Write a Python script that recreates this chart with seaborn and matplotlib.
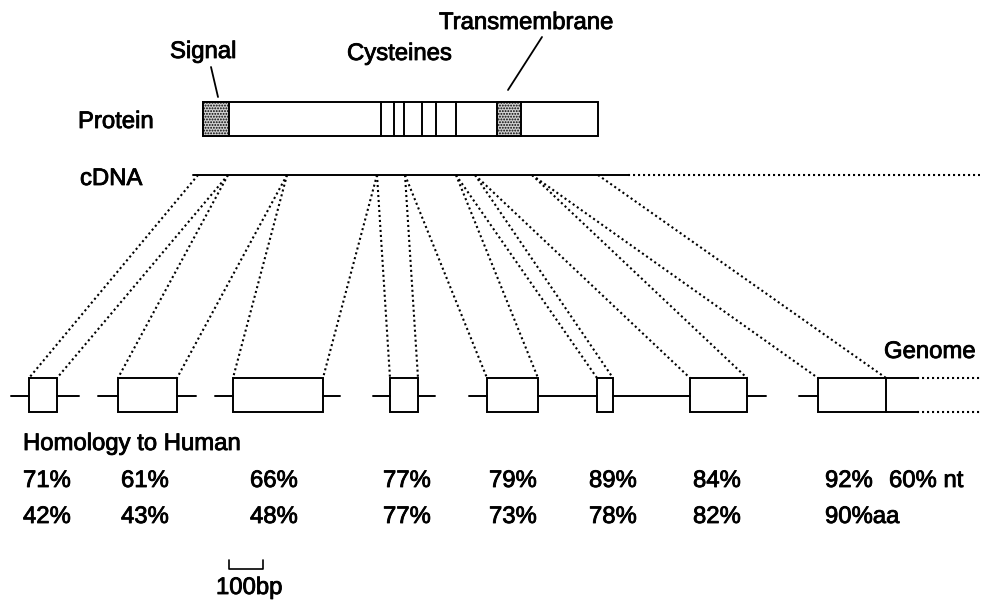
import matplotlib
matplotlib.use("Agg")
import matplotlib.pyplot as plt
import matplotlib.patheffects as pe
from matplotlib.patches import Rectangle
import seaborn as sns

# ----------------------------
# data (diagram units = pixels of the 985x605 canvas)
# ----------------------------
protein_span = (203, 598)
signal_span = (203, 229)
transmembrane_span = (497, 521)
cysteine_x = [381, 394, 404, 422, 436, 456]

cdna_solid = (193, 628)
cdna_dotted_end = 980
# exon boundaries on the cDNA, 5' to 3'
cdna_junctions = [198, 228, 287, 377, 405, 456, 475, 532, 598]

exon_starts = [29, 118, 233, 390, 487, 597, 690, 818]
exon_ends = [57, 177, 323, 418, 538, 613, 747, 886]
intron_segments = [(11, 29), (57, 79), (98, 118), (177, 196), (215, 233),
                   (323, 340), (373, 390), (418, 435), (469, 487),
                   (538, 597), (613, 690), (747, 766), (799, 818)]
utr_solid_end = 917
utr_dotted_end = 982

nt_labels = ["71%", "61%", "66%", "77%", "79%", "89%", "84%", "92%", "60% nt"]
aa_labels = ["42%", "43%", "48%", "77%", "73%", "78%", "82%", "90%aa"]
nt_label_x = [23, 121, 250, 383, 489, 589, 693, 825, 889]
aa_label_x = [23, 121, 250, 383, 489, 589, 693, 825]

scale_bar = (229, 263)   # 100 bp

# ----------------------------
# layout
# ----------------------------
prot_top, prot_bot = 102, 136
cdna_y = 175
exon_top, exon_bot = 378, 412
intron_y = 396

sns.set_style("white")
plt.rcParams["font.family"] = ["Liberation Sans", "DejaVu Sans"]
plt.rcParams["hatch.linewidth"] = 0.9

fig = plt.figure(figsize=(9.85, 6.05), dpi=100)
ax = fig.add_axes([0, 0, 1, 1])
ax.set_xlim(0, 985)
ax.set_ylim(605, 0)
ax.axis("off")

LW = 1.4
dotted = (0, (1, 1.4))
fs = 17.2
ink = [pe.withStroke(linewidth=0.6, foreground="black")]

def text(x, y, s):
   ax.text(x, y, s, fontsize=fs, ha="left", va="baseline", color="black",
           path_effects=ink)

# protein bar
ax.add_patch(Rectangle((protein_span[0], prot_top), protein_span[1] - protein_span[0],
                       prot_bot - prot_top, fill=False, lw=LW, ec="black"))
for span in (signal_span, transmembrane_span):
   ax.add_patch(Rectangle((span[0], prot_top), span[1] - span[0], prot_bot - prot_top,
                          facecolor="#d0d0d0", hatch="......", lw=LW, ec="black"))
for cx in cysteine_x:
   ax.plot([cx, cx], [prot_top, prot_bot], color="black", lw=LW)

text(170, 58, "Signal")
ax.plot([211, 218], [67, 97], color="black", lw=1.3)
text(347, 60, "Cysteines")
text(439, 29, "Transmembrane")
ax.plot([542, 508], [37, 90], color="black", lw=1.3)
text(78, 128, "Protein")

# cDNA
text(80, 185, "cDNA")
ax.plot(cdna_solid, [cdna_y, cdna_y], color="black", lw=LW)
ax.plot([cdna_solid[1], cdna_dotted_end], [cdna_y, cdna_y], color="black", lw=1.5, ls=dotted)

# mapping cDNA -> exons
for i, (s, e) in enumerate(zip(exon_starts, exon_ends)):
   ax.plot([cdna_junctions[i], s], [cdna_y, exon_top], color="black", lw=1.5, ls=dotted)
   ax.plot([cdna_junctions[i + 1], e], [cdna_y, exon_top], color="black", lw=1.5, ls=dotted)

# genome
text(884, 358, "Genome")
for s, e in intron_segments:
   ax.plot([s, e], [intron_y, intron_y], color="black", lw=LW)
for s, e in zip(exon_starts, exon_ends):
   ax.add_patch(Rectangle((s, exon_top), e - s, exon_bot - exon_top,
                          fill=False, lw=LW, ec="black"))
for y in (exon_top, exon_bot):
   ax.plot([exon_ends[-1], utr_solid_end], [y, y], color="black", lw=LW)
   ax.plot([utr_solid_end, utr_dotted_end], [y, y], color="black", lw=1.5, ls=dotted)

# homology
text(23, 450, "Homology to Human")
for x, s in zip(nt_label_x, nt_labels):
   text(x, 487, s)
for x, s in zip(aa_label_x, aa_labels):
   text(x, 523, s)

# scale bar
ax.plot([scale_bar[0], scale_bar[0], scale_bar[1], scale_bar[1]], [560, 569, 569, 560],
        color="black", lw=1.2)
text(216, 594, "100bp")

fig.savefig("out.png", dpi=100)
